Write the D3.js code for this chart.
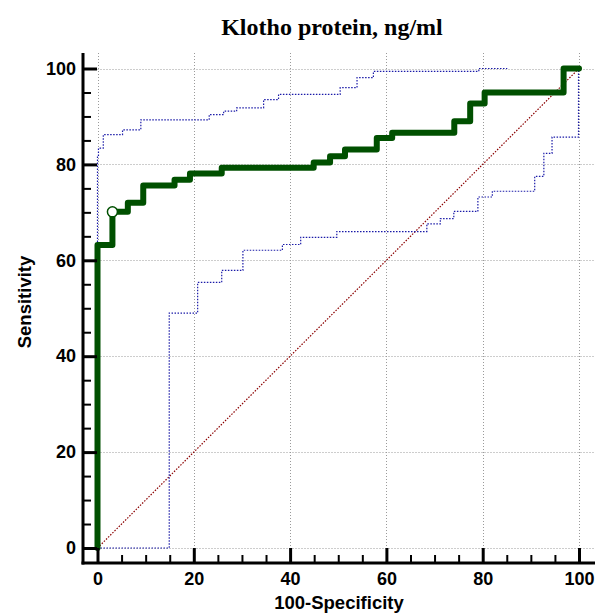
<!DOCTYPE html>
<html>
<head>
<meta charset="utf-8">
<script src="https://cdn.jsdelivr.net/npm/d3@7"></script>
<style>
  body { margin: 0; background: #fff; }
  svg { display: block; }
  .tick text { font-family: "Liberation Sans", Arial, sans-serif; font-weight: bold; font-size: 18px; fill: #000; }
</style>
</head>
<body>
<div id="chart"></div>
<script>
// ROC curve corners (100-specificity, sensitivity), drawn as steps (vertical first)
const rocX = [0, 3.1, 6.3, 9.5, 16.0, 19.2, 25.8, 44.9, 48.3, 51.4, 58.0, 61.2, 74.1, 77.4, 80.4, 96.8, 100];
const rocY = [0, 63.2, 70.1, 72.0, 75.6, 76.8, 78.1, 79.3, 80.4, 81.7, 83.1, 85.5, 86.6, 89.0, 92.7, 95.0, 100];

// upper 95% confidence bound
const upperX = [0, 0.2, 1.2, 5.2, 9.0, 23.2, 26.2, 28.9, 34.5, 37.6, 50.4, 53.9, 57.3, 79.2, 85.1];
const upperY = [0, 81.7, 83.4, 86.2, 87.2, 89.3, 90.4, 91.1, 91.8, 93.5, 94.6, 96.0, 98.1, 99.4, 100];

// lower 95% confidence bound
const lowerX = [0, 14.9, 20.8, 25.8, 30.2, 38.4, 42.2, 49.7, 68.4, 71.2, 74.0, 79.0, 82.0, 90.8, 92.7, 94.4, 99.9, 99.9];
const lowerY = [0, 0, 49.0, 55.4, 57.9, 62.1, 63.3, 64.8, 66.0, 67.6, 68.7, 70.2, 73.2, 74.4, 77.5, 82.3, 85.7, 100];

// criterion marker
const cutX = [3.1];
const cutY = [70.1];

const majorTicks = [0, 20, 40, 60, 80, 100];
const minorTicks = d3.range(0, 101, 5).filter(v => v % 20 !== 0);

const W = 603, H = 615;
const x = d3.scaleLinear().domain([0, 100]).range([97.5, 579]);
const y = d3.scaleLinear().domain([0, 100]).range([548, 68.5]);
const axisX0 = 83, axisX1 = 595, axisYTop = 53, axisYBot = 563;

const svg = d3.select('#chart').append('svg').attr('width', W).attr('height', H);

// grid
const grid = svg.append('g').attr('stroke', '#9a9a9a').attr('stroke-width', 1).attr('stroke-dasharray', '1,2');
grid.selectAll('.gx').data(majorTicks).enter().append('line')
  .attr('x1', d => Math.round(x(d)) + 0.5).attr('x2', d => Math.round(x(d)) + 0.5)
  .attr('y1', axisYTop).attr('y2', y(0));
grid.selectAll('.gy').data(majorTicks).enter().append('line')
  .attr('y1', d => Math.round(y(d)) + 0.5).attr('y2', d => Math.round(y(d)) + 0.5)
  .attr('x1', x(0)).attr('x2', axisX1);

const zip = (xs, ys) => xs.map((v, i) => [v, ys[i]]);
const stepLine = d3.line().x(d => x(d[0])).y(d => y(d[1])).curve(d3.curveStepBefore);

// reference diagonal
svg.append('path')
  .datum([[0, 0], [100, 100]])
  .attr('d', d3.line().x(d => x(d[0])).y(d => y(d[1])))
  .attr('fill', 'none').attr('stroke', '#8b0000').attr('stroke-width', 1.2).attr('stroke-dasharray', '1.5,1.5');

// confidence bounds
[zip(upperX, upperY), zip(lowerX, lowerY)].forEach(pts => {
  svg.append('path').datum(pts).attr('d', stepLine)
    .attr('fill', 'none').attr('stroke', '#1a1aa8').attr('stroke-width', 1.2).attr('stroke-dasharray', '1.5,1.5');
});

// ROC curve
svg.append('path').datum(zip(rocX, rocY)).attr('d', stepLine)
  .attr('fill', 'none').attr('stroke', '#005000').attr('stroke-width', 6)
  .attr('stroke-linejoin', 'round').attr('stroke-linecap', 'round');

svg.selectAll('.cut').data(zip(cutX, cutY)).enter().append('circle')
  .attr('cx', d => x(d[0])).attr('cy', d => y(d[1])).attr('r', 5)
  .attr('fill', '#fff').attr('stroke', '#005000').attr('stroke-width', 1.5);

// axes
const gx = svg.append('g').attr('transform', `translate(0,${axisYBot})`);
gx.call(d3.axisBottom(x).tickValues(majorTicks).tickSize(-15).tickPadding(9).tickFormat(d3.format('d')));
gx.select('.domain').remove();
gx.selectAll('.tick line').attr('stroke', '#000').attr('stroke-width', 3);
const gxm = svg.append('g').attr('transform', `translate(0,${axisYBot})`);
gxm.call(d3.axisBottom(x).tickValues(minorTicks).tickSize(-8).tickFormat(''));
gxm.select('.domain').remove();
gxm.selectAll('.tick line').attr('stroke', '#000').attr('stroke-width', 2);

const gy = svg.append('g').attr('transform', `translate(${axisX0},0)`);
gy.call(d3.axisLeft(y).tickValues(majorTicks).tickSize(-14).tickPadding(7).tickFormat(d3.format('d')));
gy.select('.domain').remove();
gy.selectAll('.tick line').attr('stroke', '#000').attr('stroke-width', 3);
const gym = svg.append('g').attr('transform', `translate(${axisX0},0)`);
gym.call(d3.axisLeft(y).tickValues(minorTicks).tickSize(-8).tickFormat(''));
gym.select('.domain').remove();
gym.selectAll('.tick line').attr('stroke', '#000').attr('stroke-width', 2);

svg.append('line').attr('x1', axisX0 - 1.5).attr('x2', axisX1).attr('y1', axisYBot).attr('y2', axisYBot)
  .attr('stroke', '#000').attr('stroke-width', 3);
svg.append('line').attr('x1', axisX0).attr('x2', axisX0).attr('y1', axisYTop).attr('y2', axisYBot + 1.5)
  .attr('stroke', '#000').attr('stroke-width', 3);

// titles
svg.append('text').attr('x', 332).attr('y', 35).attr('text-anchor', 'middle')
  .style('font-family', '"Liberation Serif", "Times New Roman", serif').style('font-weight', 'bold').style('font-size', '24px')
  .text('Klotho protein, ng/ml');

svg.append('text').attr('x', (axisX0 + axisX1) / 2).attr('y', 609).attr('text-anchor', 'middle')
  .style('font-family', '"Liberation Sans", Arial, sans-serif').style('font-weight', 'bold').style('font-size', '18.5px')
  .text('100-Specificity');

svg.append('text').attr('transform', 'translate(31,302) rotate(-90)').attr('text-anchor', 'middle')
  .style('font-family', '"Liberation Sans", Arial, sans-serif').style('font-weight', 'bold').style('font-size', '18.5px')
  .text('Sensitivity');
</script>
</body>
</html>
